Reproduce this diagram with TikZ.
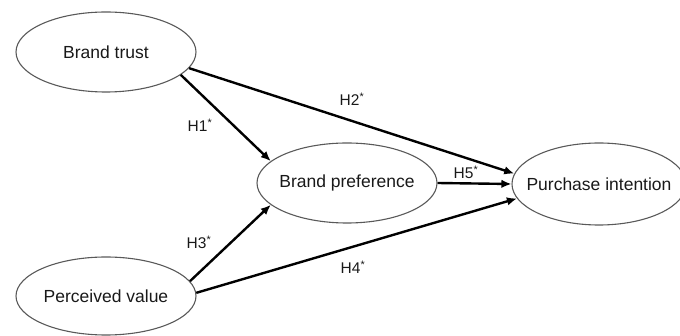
\documentclass[tikz,border=0pt]{standalone}
\usepackage{fontspec}
\setmainfont{Liberation Sans}
\usetikzlibrary{shapes.geometric,arrows.meta}

\begin{document}
\begin{tikzpicture}[x=1pt,y=-1pt,
    construct/.style={ellipse, draw=black!65, line width=1.1pt,
      inner xsep=-14pt, inner ysep=0pt,
      minimum width=180pt, minimum height=80pt,
      font=\fontsize{17.5}{20}\selectfont, text=black!90},
    hyp/.style={line width=2.4pt, -{Latex[length=10pt,width=8.5pt]}},
    hlabel/.style={font=\fontsize{15.5}{18}\selectfont, text=black!90}]
  \useasboundingbox (0,0) rectangle (680,336);

  % Constructs
  \node[construct] (trust) at (106,52) {Brand trust};
  \node[construct] (pref) at (347,183) {Brand preference};
  \node[construct, minimum width=174pt, minimum height=82pt] (intent) at (599,184) {Purchase intention};
  \node[construct, minimum height=78pt] (value) at (106,296) {Perceived value};

  % Hypotheses
  \draw[hyp] (trust.-17) -- (pref.164);
  \draw[hyp] (trust.-11) -- (intent.173);
  \draw[hyp] (value.10) -- (pref.196);
  \draw[hyp] (value.2) -- (intent.190);
  \draw[hyp] (pref.east) -- (intent.west);

  % Labels
  \node[hlabel] (h1) at (200,125) {H1\textsuperscript{*}};
  \node[hlabel] (h2) at (352,99) {H2\textsuperscript{*}};
  \node[hlabel] (h3) at (199,242) {H3\textsuperscript{*}};
  \node[hlabel] (h4) at (353,267) {H4\textsuperscript{*}};
  \node[hlabel] (h5) at (466,172) {H5\textsuperscript{*}};
\end{tikzpicture}
\end{document}
